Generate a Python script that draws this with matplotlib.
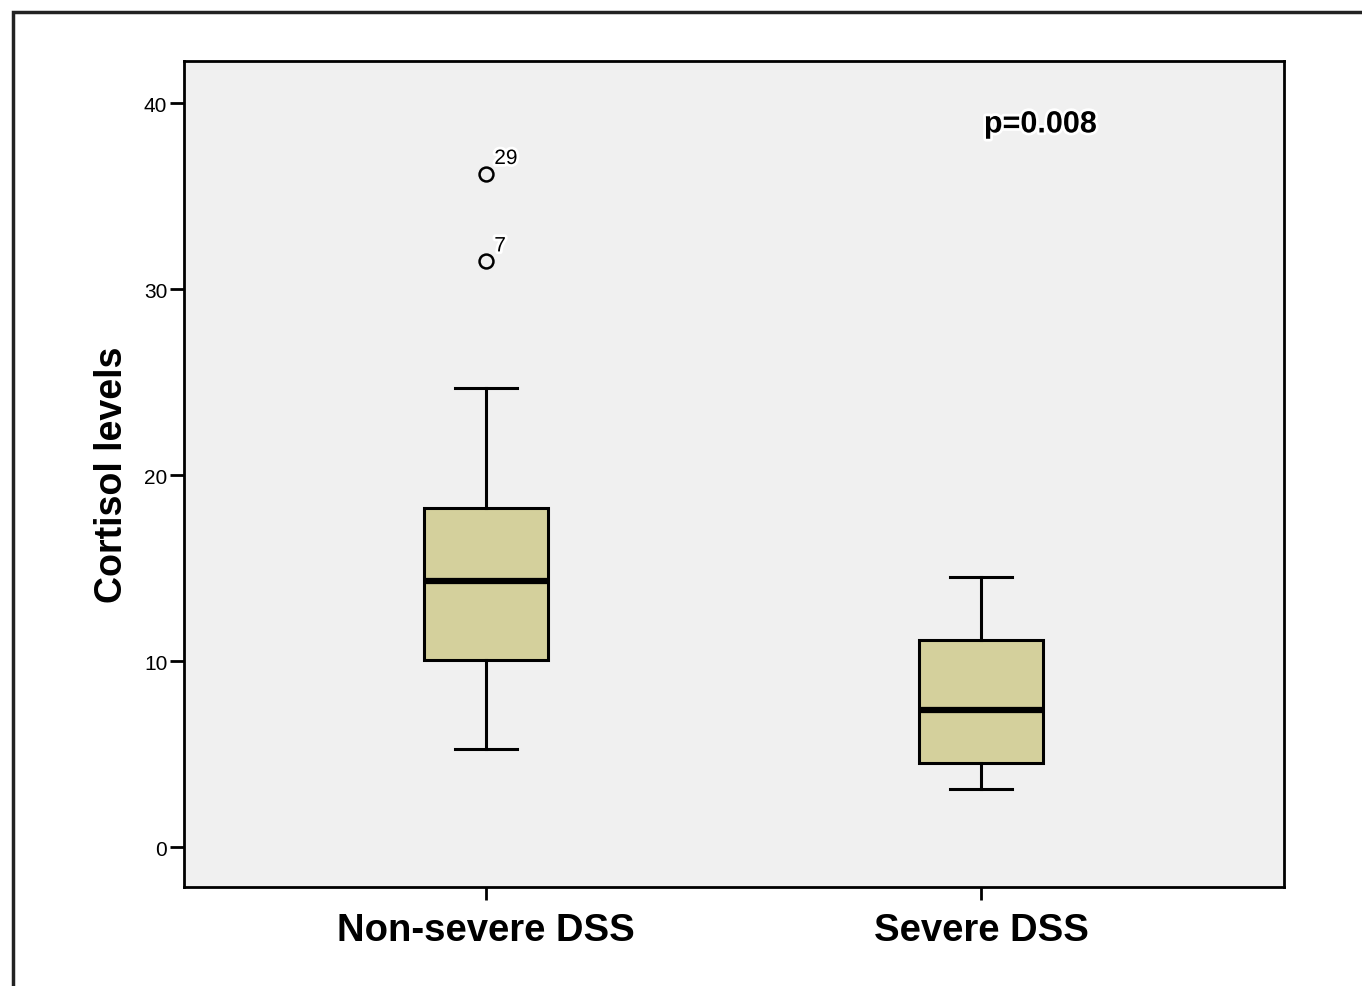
import matplotlib
matplotlib.use("Agg")
import matplotlib.pyplot as plt
import matplotlib.patheffects as pe
from matplotlib.patches import Rectangle

# ---- data ----
groups = ["Non-severe DSS", "Severe DSS"]
whisker_low = [5.25, 3.1]
q1 = [10.05, 4.5]
median = [14.3, 7.35]
q3 = [18.25, 11.15]
whisker_high = [24.7, 14.5]
outlier_values = [[36.2, 31.5], []]
outlier_labels = [["29", "7"], []]
y_ticks = [0, 10, 20, 30, 40]
p_text = "p=0.008"
y_label = "Cortisol levels"

plt.rcParams['font.family'] = ['Liberation Sans', 'DejaVu Sans']

fig = plt.figure(figsize=(13.62, 9.87), dpi=100)
fig.patch.set_facecolor("white")
# outer frame (clipped at right / bottom as in the reference)
fig.add_artist(Rectangle((13/1362, -0.05), 1.2, 1 - 13/987 + 0.05,
                         transform=fig.transFigure, fill=False,
                         edgecolor="#222222", linewidth=2.5))

ax = fig.add_axes([184/1362, 1 - 888/987, 1100/1362, 826/987])
ax.set_facecolor("#F0F0F0")

stats = []
for i, g in enumerate(groups):
    stats.append(dict(label=g, whislo=whisker_low[i], q1=q1[i], med=median[i],
                      q3=q3[i], whishi=whisker_high[i], fliers=outlier_values[i]))

positions = [1, 2]
ax.bxp(stats, positions=positions, widths=0.25, patch_artist=True,
       showfliers=True,
       boxprops=dict(facecolor="#D4D09C", edgecolor="black", linewidth=2.2),
       medianprops=dict(color="black", linewidth=4.5),
       whiskerprops=dict(color="black", linewidth=2.2),
       capprops=dict(color="black", linewidth=2.2),
       capwidths=0.127,
       flierprops=dict(marker="o", markersize=10, markerfacecolor="none",
                       markeredgecolor="black", markeredgewidth=1.8))

halo = [pe.withStroke(linewidth=4, foreground="white")]
for i, pos in enumerate(positions):
    for v, lab in zip(outlier_values[i], outlier_labels[i]):
        ax.annotate(lab, (pos, v), xytext=(6, 7), textcoords="offset points",
                    fontsize=15, color="black", path_effects=halo)

ax.set_xlim(0.39, 2.612)
ax.set_ylim(-2.15, 42.26)
ax.set_yticks(y_ticks)
ax.set_yticklabels([str(t) for t in y_ticks], fontsize=15)
ax.set_xticks(positions)
ax.set_xticklabels(groups, fontsize=27.5, fontweight="bold")
ax.tick_params(axis="y", length=10, width=2, pad=2)
ax.tick_params(axis="x", length=9, width=2, pad=9)
ax.set_ylabel(y_label, fontsize=27, fontweight="bold", labelpad=10)
for s in ax.spines.values():
    s.set_linewidth(2)
    s.set_color("black")

ax.text(2.12, 38.85, p_text, fontsize=22, fontweight="bold", ha="center",
        va="center", color="black", path_effects=halo)

fig.savefig("out.png", dpi=100)
